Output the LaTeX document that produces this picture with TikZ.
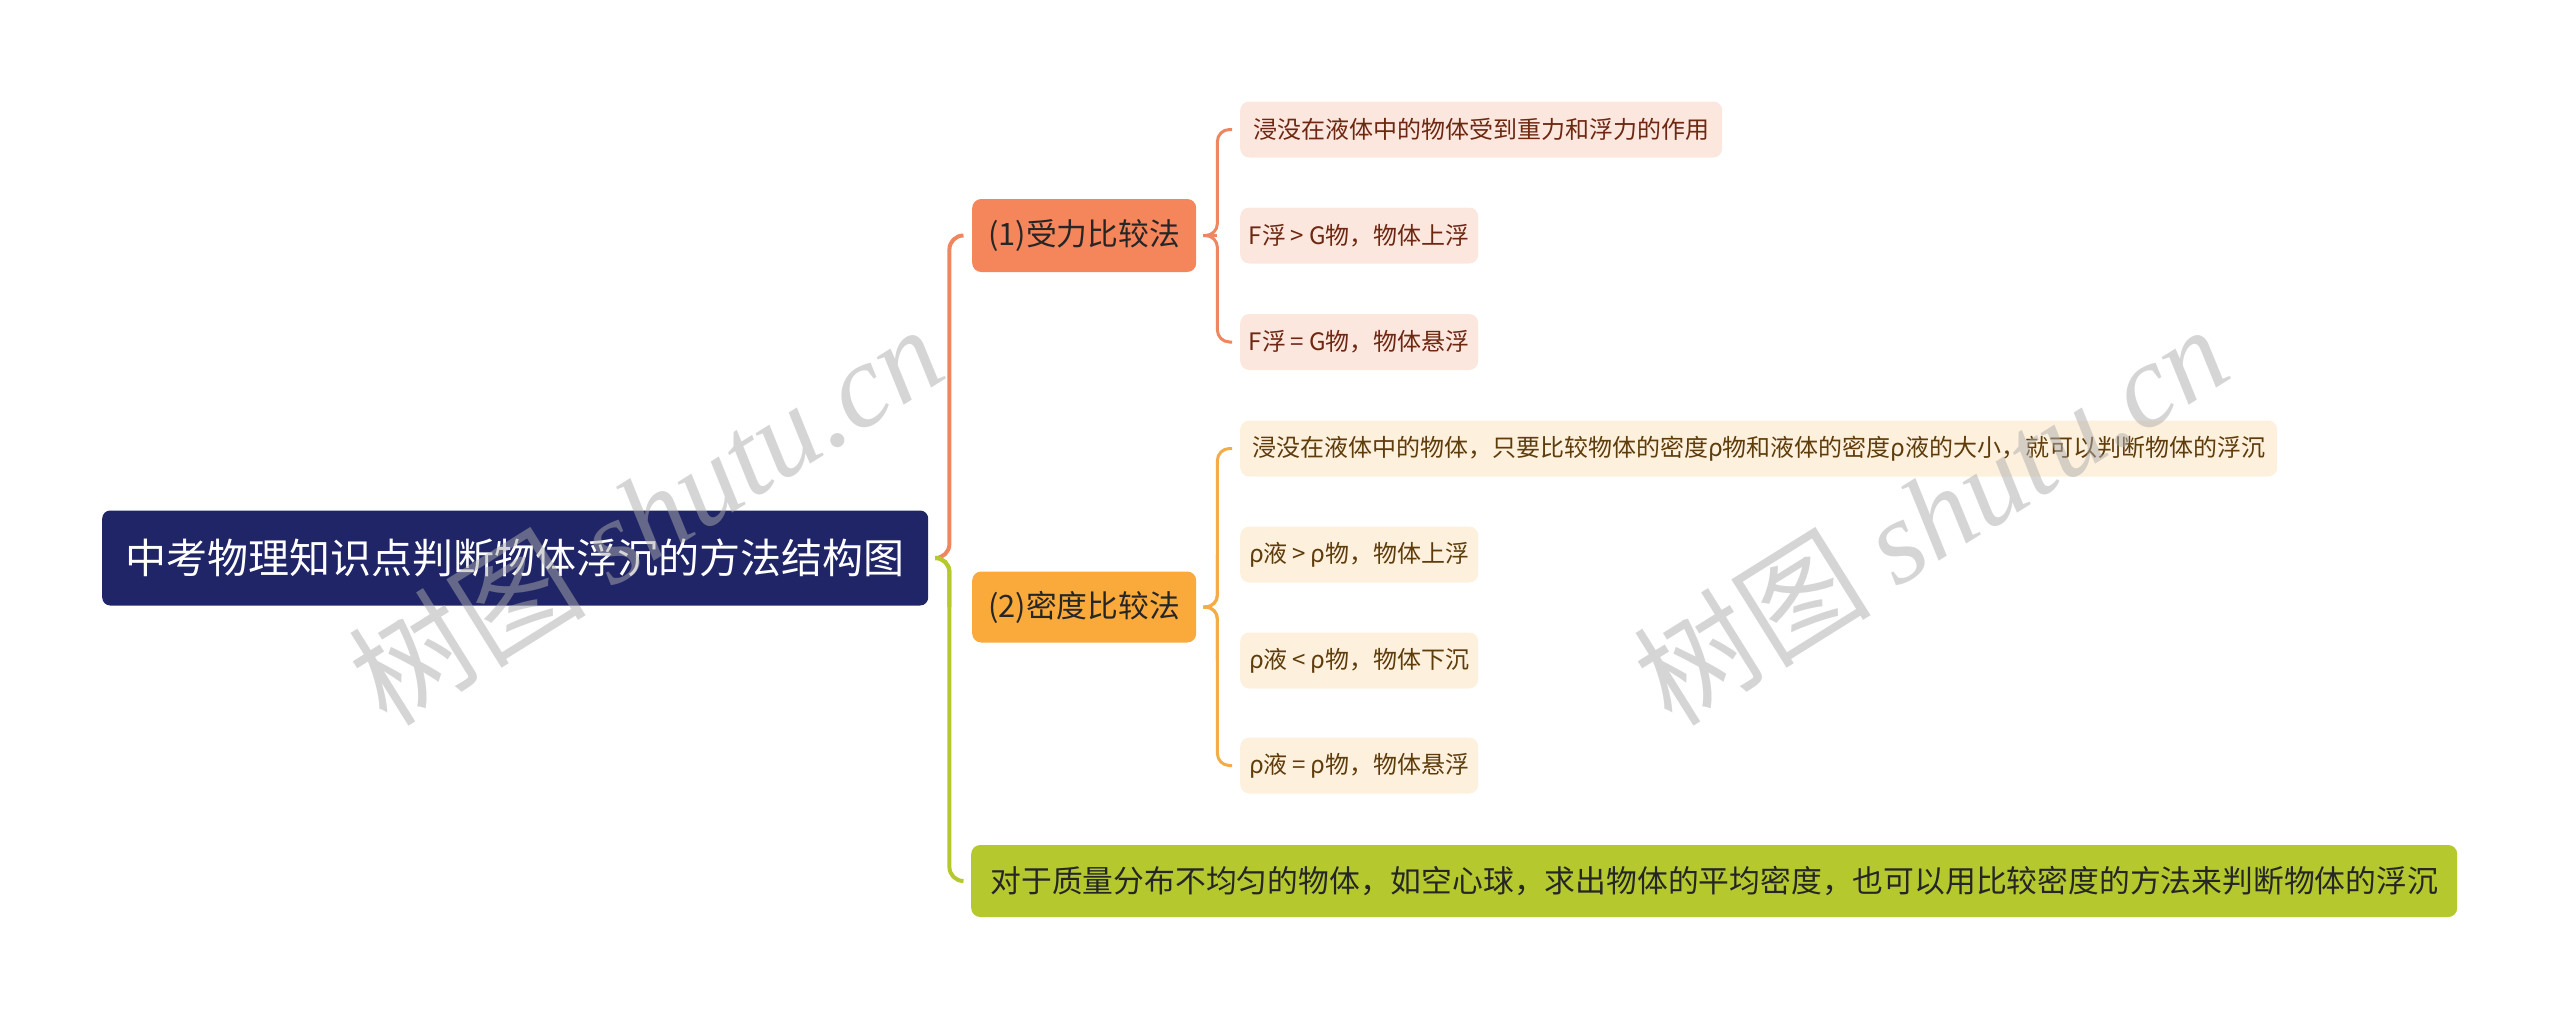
\documentclass[tikz,border=0pt]{standalone}
\usepackage{fontspec}
\setmainfont{Noto Sans CJK SC}
\newfontfamily\markfont{Liberation Serif}
\usetikzlibrary{calc}
\definecolor{RootBlue}{RGB}{31,37,102}
\definecolor{ForceOrange}{RGB}{245,133,90}
\definecolor{DensityOrange}{RGB}{250,170,58}
\definecolor{NoteGreen}{RGB}{181,201,46}
\definecolor{ForceLeaf}{RGB}{252,231,223}
\definecolor{DensityLeaf}{RGB}{253,241,221}
\definecolor{ForceText}{RGB}{110,40,18}
\definecolor{DensityText}{RGB}{95,60,12}
\definecolor{ForceLine}{RGB}{238,135,95}
\definecolor{DensityLine}{RGB}{243,172,72}
\newcommand{\rel}[1]{\hspace{.2em}#1\hspace{.2em}}

\begin{document}
\begin{tikzpicture}[x=1pt,y=1pt,
  box/.style={rounded corners=9pt,anchor=west,inner sep=0pt,minimum height=73pt,font=\fontsize{30.8}{34}\selectfont,text=black!85},
  leaf/.style={rounded corners=9pt,anchor=west,inner sep=0pt,minimum height=56pt,minimum width=238pt,font=\fontsize{24}{28}\selectfont},
  link/.style={line width=4pt,rounded corners=14pt},
  brace/.style={line width=3pt,rounded corners=12pt},
  watermark/.style={rotate=32,text=gray!65,opacity=.5,font=\fontsize{119}{130}\selectfont}]
\useasboundingbox (0,0) rectangle (2560,-1020);

\node[box,fill=RootBlue,text=white,minimum width=826pt,minimum height=95pt,rounded corners=8pt,font=\fontsize{41}{46}\selectfont] (root) at (102,-558) {中考物理知识点判断物体浮沉的方法结构图};
\node[box,fill=ForceOrange,minimum width=224pt] (force) at (972,-235.5) {(1)受力比较法};
\node[box,fill=DensityOrange,minimum width=224pt,minimum height=71pt] (density) at (972,-607) {(2)密度比较法};
\node[box,fill=NoteGreen,minimum width=1486pt,minimum height=72pt] (note) at (971,-881) {对于质量分布不均匀的物体，如空心球，求出物体的平均密度，也可以用比较密度的方法来判断物体的浮沉};

\node[leaf,fill=ForceLeaf,text=ForceText,minimum width=482pt] (f1) at (1240,-129.5) {浸没在液体中的物体受到重力和浮力的作用};
\node[leaf,fill=ForceLeaf,text=ForceText] (f2) at (1240,-235.5) {F浮\rel{>}G物，物体上浮};
\node[leaf,fill=ForceLeaf,text=ForceText] (f3) at (1240,-342) {F浮\rel{=}G物，物体悬浮};

\node[leaf,fill=DensityLeaf,text=DensityText,minimum width=1037pt] (d1) at (1240,-448.5) {浸没在液体中的物体，只要比较物体的密度ρ物和液体的密度ρ液的大小，就可以判断物体的浮沉};
\node[leaf,fill=DensityLeaf,text=DensityText] (d2) at (1240,-554.5) {ρ液\rel{>}ρ物，物体上浮};
\node[leaf,fill=DensityLeaf,text=DensityText] (d3) at (1240,-660.5) {ρ液\rel{<}ρ物，物体下沉};
\node[leaf,fill=DensityLeaf,text=DensityText] (d4) at (1240,-765.5) {ρ液\rel{=}ρ物，物体悬浮};

\coordinate (rootj) at ([xshift=8pt]root.east);
\coordinate (rootv) at ([xshift=21pt]root.east);
\draw[link,ForceLine] (rootj) -| (rootv |- force.west) -- ([xshift=-9pt]force.west);
\draw[link,NoteGreen] (rootj) -| (rootv |- density.west);
\draw[link,NoteGreen] (rootj) -| (rootv |- note.west) -- ([xshift=-9pt]note.west);

\coordinate (forcej) at ([xshift=7pt]force.east);
\coordinate (forcev) at ([xshift=21pt]force.east);
\draw[brace,ForceLine] (forcej) -| (forcev |- f1.west) -- ([xshift=-8pt]f1.west);
\draw[brace,ForceLine] (forcej) -- (forcev |- f2.west);
\draw[brace,ForceLine] (forcej) -| (forcev |- f3.west) -- ([xshift=-8pt]f3.west);

\coordinate (densityj) at ([xshift=7pt]density.east);
\coordinate (densityv) at ([xshift=21pt]density.east);
\draw[brace,DensityLine] (densityj) -| (densityv |- d1.west) -- ([xshift=-8pt]d1.west);
\draw[brace,DensityLine] (densityj) -| (densityv |- d2.west);
\draw[brace,DensityLine] (densityj) -| (densityv |- d3.west);
\draw[brace,DensityLine] (densityj) -| (densityv |- d4.west) -- ([xshift=-8pt]d4.west);

\node[watermark] (mark1) at (645,-514) {树图 {\markfont\itshape shutu.cn}};
\node[watermark] (mark2) at (1930,-514) {树图 {\markfont\itshape shutu.cn}};

\end{tikzpicture}
\end{document}
